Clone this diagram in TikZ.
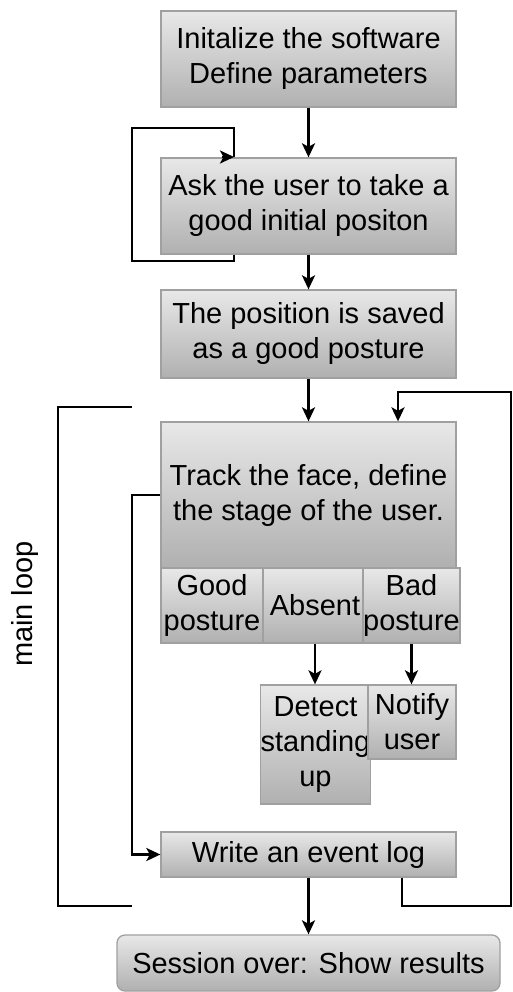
\documentclass[tikz,border=0pt]{standalone}
\usepackage{fontspec}
\setmainfont{Liberation Sans}
\usetikzlibrary{arrows.meta}
\definecolor{boxtop}{HTML}{E8E8E8}
\definecolor{boxbot}{HTML}{B0B0B0}
\definecolor{boxline}{HTML}{A0A0A0}
\tikzset{
  box/.style={draw=boxline, line width=1.3pt, top color=boxtop, bottom color=boxbot,
    inner sep=0pt, align=center, font=\fontsize{29}{35}\selectfont},
  conn/.style={line width=2.7pt, -{Stealth[length=14pt,width=13pt,inset=3.5pt]}},
  plain/.style={line width=2.7pt},
}
\begin{document}
\begin{tikzpicture}[x=1pt,y=-1pt]
\useasboundingbox (0,0) rectangle (513,992);
% boxes
\node[box, minimum width=295pt, minimum height=96pt] (init) at (308.5,59) {Initalize the software\\Define parameters};
\node[box, minimum width=295pt, minimum height=96pt] (ask) at (308.5,206) {Ask the user to take a\\good initial positon};
\node[box, minimum width=295pt, minimum height=88pt] (saved) at (308.5,334) {The position is saved\\as a good posture};
\node[box, minimum width=295pt, minimum height=146pt] (track) at (308.5,495) {Track the face, define\\the stage of the user.};
\node[box, minimum width=102pt, minimum height=75pt] (good) at (212,605.5) {Good\\posture};
\node[box, minimum width=104pt, minimum height=75pt] (absent) at (315,605.5) {Absent};
\node[box, minimum width=89pt, minimum height=75pt] (bad) at (411.5,605.5) {Bad\\posture};
\node[box, minimum width=105pt, minimum height=119pt] (detect) at (315.5,744.5) {Detect\\standing\\up};
\node[box, minimum width=88pt, minimum height=74pt] (notify) at (412,722) {Notify\\user};
\node[box, minimum width=295pt, minimum height=45pt] (write) at (308.5,854.5) {Write an event log};
\node[box, rounded corners=8pt, minimum width=383pt, minimum height=56pt] (session) at (308.5,963) {Session over: Show results};
% main loop label
\node[rotate=90, font=\fontsize{29}{35}\selectfont, inner sep=0pt] (mainloop) at (25,604) {main loop};
% helper coordinates
\coordinate (la) at (234,261);
\coordinate (lb) at (132,261);
\coordinate (lc) at (132,128);
\coordinate (ld) at (234,128);
\coordinate (le) at (234,157);
\coordinate (lf) at (222,157);
\coordinate (ra) at (402,906);
\coordinate (rb) at (511,906);
\coordinate (rc) at (511,392);
\coordinate (rd) at (398,392);
\coordinate (ma) at (132,495);
\coordinate (mb) at (132,854.5);
\coordinate (ba) at (132,407);
\coordinate (bb) at (58,407);
\coordinate (bc) at (58,906);
\coordinate (bd) at (132,906);
% connectors
\draw[conn] (init.south) -- (ask.north);
\draw[conn] (ask.south) -- (saved.north);
\draw[conn] (saved.south) -- (track.north);
\draw[plain] (ask.south -| la) -- (la) -- (lb) -- (lc) -- (ld) -- (le);
\draw[conn] (lf) -- (le);
\draw[conn] (track.west) -- (ma) -- (mb) -- (write.west);
\draw[conn] (absent.south) -- (absent.south |- detect.north);
\draw[conn] (bad.south) -- (bad.south |- notify.north);
\draw[conn] (write.south) -- (session.north);
\draw[conn] (write.south -| ra) -- (ra) -- (rb) -- (rc) -- (rd) -- (rd |- track.north);
\draw[plain] (ba) -- (bb) -- (bc) -- (bd);
\end{tikzpicture}
\end{document}
